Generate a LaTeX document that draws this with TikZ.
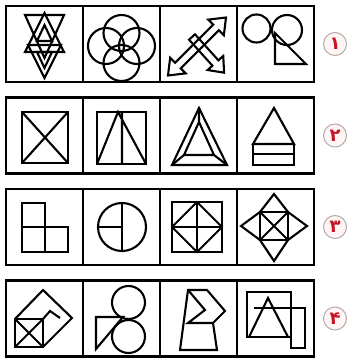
\documentclass[tikz,border=0pt]{standalone}
\usepackage{fontspec}
\usepackage{xcolor}
\usepackage{tikz}
\usetikzlibrary{positioning}
\newfontfamily\arabicfont[Script=Arabic]{DejaVu Sans}
\definecolor{qred}{HTML}{C4162A}
\definecolor{qring}{HTML}{B4AAAA}

\begin{document}
\begin{tikzpicture}[x=1pt,y=-1pt,
  cell/.style={draw,line width=2.2pt,minimum width=77pt,minimum height=76pt,
               inner sep=0pt,outer sep=0pt},
  fig/.style={line width=2.1pt},
  num/.style={circle,draw=qring,line width=1pt,fill=red!4,minimum size=23pt,
              inner sep=0pt,text=qred,font=\arabicfont\bfseries\fontsize{18}{18}\selectfont},
  darrow/.pic={\draw[fig] (-#1,0) -- (-#1+14,11) -- (-#1+14,4) -- (#1-14,4)
      -- (#1-14,11) -- (#1,0) -- (#1-14,-11) -- (#1-14,-4) -- (-#1+14,-4)
      -- (-#1+14,-11) -- cycle;},
  sarrow/.pic={\draw[fig] (0,4) -- (#1-13,4) -- (#1-13,10.5) -- (#1,0)
      -- (#1-13,-10.5) -- (#1-13,-4) -- (0,-4) -- cycle;}
]
\fill[white] (0,0) rectangle (352,358);
\useasboundingbox (0,0) rectangle (352,358);

% the four rows of answer cells
\foreach \r in {1,...,4}
  \foreach \c in {1,...,4}
    \node[cell] (c\r\c) at ({44.5+77*(\c-1)},{44+91.5*(\r-1)}) {};

% row numbers
\foreach \r/\d in {1/۱,2/۲,3/۳,4/۴}
  \node[num,right=9pt of c\r4] (n\r) {\d};

% row 1
\draw[fig] (25,15) -- (64,15) -- (44.5,58) -- cycle;
\draw[fig] (44.5,13) -- (25,52) -- (64,52) -- cycle;
\draw[fig] (28,45) -- (61,45) -- (44.5,78) -- cycle;
\draw[fig] (44.5,25) -- (37,41) -- (52,41) -- cycle;
\draw[fig] (37,52) -- (52,52) -- (44.5,68) -- cycle;

\foreach \p in {(121.5,33),(121.5,63),(106,46),(137,46)}
  \draw[fig] \p circle[radius=18];

\pic[rotate=45] at (197,46.5) {darrow=41};
\pic[rotate=-48] at (192,37) {sarrow=48};

\draw[fig] (256.5,28.5) circle[radius=14];
\draw[fig] (287,30) circle[radius=15];
\draw[fig] (275,33) -- (275,64) -- (306,64) -- cycle;

% row 2
\draw[fig] (22,112) rectangle (68,163);
\draw[fig] (22,112) -- (68,163) (68,112) -- (22,163);

\draw[fig] (97,112) rectangle (146,164);
\draw[fig] (97,164) -- (118,112) -- (146,164) (122,112) -- (122,164);

\draw[fig] (199,108) -- (172,165) -- (227,165) -- cycle;
\draw[fig] (199,122) -- (184,155) -- (214,155) -- cycle;
\draw[fig] (199,108) -- (199,122) (172,165) -- (184,155) (227,165) -- (214,155);

\draw[fig] (274,108) -- (253,144) -- (294,144) -- cycle;
\draw[fig] (253,144) rectangle (294,165);
\draw[fig] (253,154) -- (294,154);

% row 3
\draw[fig] (22,203) rectangle (45,227);
\draw[fig] (22,227) rectangle (45,252);
\draw[fig] (45,227) rectangle (68,252);

\draw[fig] (122,227) circle[radius=24];
\draw[fig] (122,203) -- (122,251) (98,227) -- (122,227);

\draw[fig] (172,202) rectangle (222,252);
\draw[fig] (197,202) -- (222,227) -- (197,252) -- (172,227) -- cycle;
\draw[fig] (197,202) -- (197,252) (172,227) -- (222,227);

\draw[fig] (274,194) -- (288,212) -- (307,226) -- (288,240) -- (274,261)
  -- (260,240) -- (241,226) -- (260,212) -- cycle;
\draw[fig] (260,212) rectangle (288,240);
\draw[fig] (260,212) -- (288,240) (288,212) -- (260,240);

% row 4
\draw[fig] (15,319) -- (43,290) -- (72,318) -- (43,347);
\draw[fig] (15,319) rectangle (43,347);
\draw[fig] (15,319) -- (43,347) (43,319) -- (15,347);
\draw[fig] (43,319) -- (50,311) -- (60,318);

\draw[fig] (128.5,302.5) circle[radius=16.5];
\draw[fig] (128.5,336.5) circle[radius=16.5];
\draw[fig] (96,317) -- (123,317) -- (96,349) -- cycle;

\draw[fig] (188,290) -- (207,290) -- (225,311) -- (213,323) -- (217,350)
  -- (180,350) -- cycle;
\draw[fig] (188,290) -- (205,310) -- (188,323) -- (213,323);

\draw[fig] (247,292) rectangle (291,337);
\draw[fig] (249,337) -- (268,298) -- (288,337);
\draw[fig] (254,308) -- (305,308) -- (305,348) -- (291,348) -- (291,337);
\end{tikzpicture}
\end{document}
